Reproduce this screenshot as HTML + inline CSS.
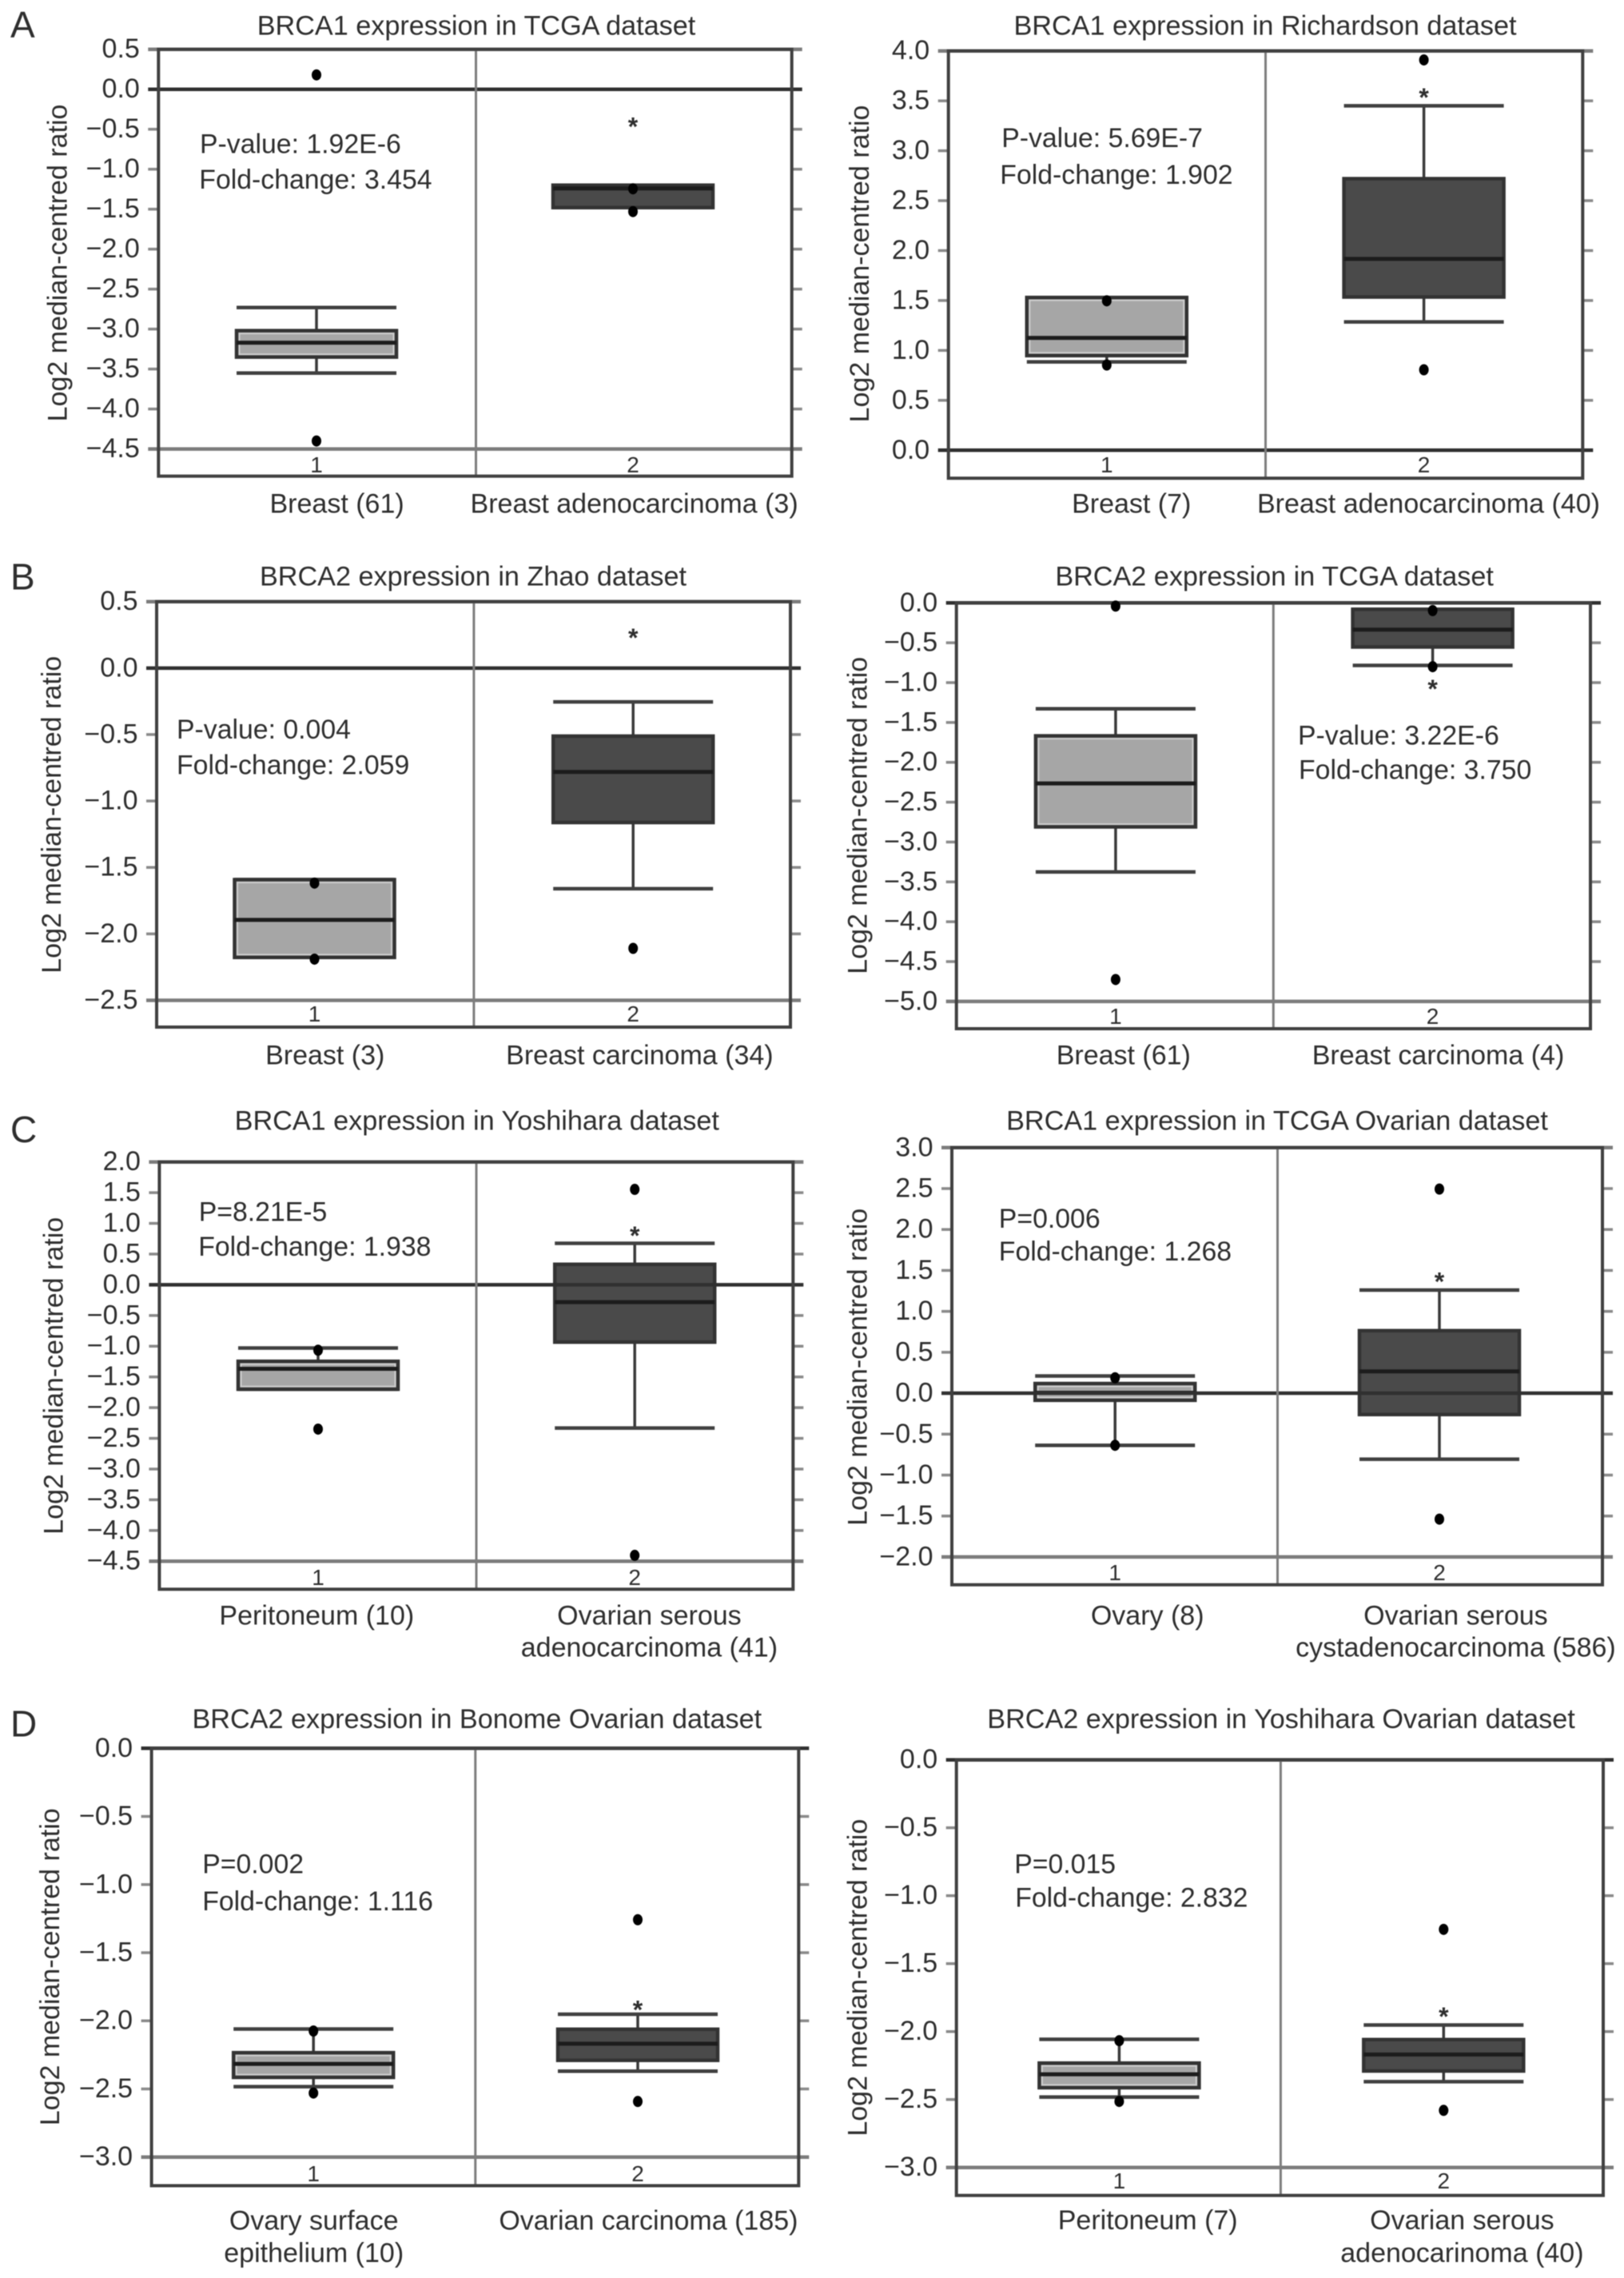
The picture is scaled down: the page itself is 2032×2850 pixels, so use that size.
<!DOCTYPE html>
<html lang="en">
<head>
<meta charset="utf-8">
<title>BRCA1 and BRCA2 expression box plots</title>
<style>
  html, body { margin: 0; padding: 0; background: #ffffff; }
  body { width: 2032px; height: 2850px; overflow: hidden; }
  svg { display: block; filter: blur(0.6px); }
  text { font-family: "Liberation Sans", Arial, sans-serif; fill: #2e2e2e; }
</style>
</head>
<body>
<svg id="figure" xmlns="http://www.w3.org/2000/svg" width="2032" height="2850" viewBox="0 0 2032 2850">
  <rect width="2032" height="2850" fill="#ffffff"/>
  <text x="13" y="46.8" font-size="46">A</text>
  <text x="13" y="737.7" font-size="46">B</text>
  <text x="13" y="1428.8" font-size="46">C</text>
  <text x="13" y="2172.7" font-size="46">D</text>
</svg>
<script>
// ---- Chart A-left: BRCA1, TCGA ----
const a1Ticks = [0.5, 0, -0.5, -1, -1.5, -2, -2.5, -3, -3.5, -4, -4.5];
const a1WhiskerHigh = [-2.73, -1.2];
const a1Q3 = [-3.02, -1.2];
const a1Median = [-3.17, -1.24];
const a1Q1 = [-3.35, -1.48];
const a1WhiskerLow = [-3.55, -1.48];
const a1Outliers = [[0.18, -4.4], [-1.245, -1.53]];
const a1Star = [-0.41];
// ---- Chart A-right: BRCA1, Richardson ----
const a2Ticks = [4, 3.5, 3, 2.5, 2, 1.5, 1, 0.5, 0];
const a2WhiskerHigh = [1.53, 3.45];
const a2Q3 = [1.53, 2.72];
const a2Median = [1.125, 1.917];
const a2Q1 = [0.948, 1.535];
const a2WhiskerLow = [0.885, 1.285];
const a2Outliers = [[1.497, 0.854], [3.91, 0.806]];
const a2Star = [3.58];
// ---- Chart B-left: BRCA2, Zhao ----
const b1Ticks = [0.5, 0, -0.5, -1, -1.5, -2, -2.5];
const b1WhiskerHigh = [-1.592, -0.254];
const b1Q3 = [-1.592, -0.512];
const b1Median = [-1.895, -0.781];
const b1Q1 = [-2.177, -1.162];
const b1WhiskerLow = [-2.177, -1.66];
const b1Outliers = [[-1.618, -2.19], [-2.109]];
const b1Star = [0.265];
// ---- Chart B-right: BRCA2, TCGA ----
const b2Ticks = [0, -0.5, -1, -1.5, -2, -2.5, -3, -3.5, -4, -4.5, -5];
const b2WhiskerHigh = [-1.328, -0.08];
const b2Q3 = [-1.668, -0.08];
const b2Median = [-2.265, -0.335];
const b2Q1 = [-2.81, -0.553];
const b2WhiskerLow = [-3.375, -0.784];
const b2Outliers = [[-0.04, -4.725], [-0.096, -0.8]];
const b2Star = [-1.02];
// ---- Chart C-left: BRCA1, Yoshihara ----
const c1Ticks = [2, 1.5, 1, 0.5, 0, -0.5, -1, -1.5, -2, -2.5, -3, -3.5, -4, -4.5];
const c1WhiskerHigh = [-1.03, 0.676];
const c1Q3 = [-1.246, 0.333];
const c1Median = [-1.368, -0.282];
const c1Q1 = [-1.7, -0.933];
const c1WhiskerLow = [-1.7, -2.332];
const c1Outliers = [[-1.066, -2.35], [1.553, -4.405]];
const c1Star = [0.88];
// ---- Chart C-right: BRCA1, TCGA Ovarian ----
const c2Ticks = [3, 2.5, 2, 1.5, 1, 0.5, 0, -0.5, -1, -1.5, -2];
const c2WhiskerHigh = [0.21, 1.26];
const c2Q3 = [0.118, 0.764];
const c2Median = [0.005, 0.267];
const c2Q1 = [-0.086, -0.26];
const c2WhiskerLow = [-0.636, -0.806];
const c2Outliers = [[0.188, -0.636], [2.494, -1.538]];
const c2Star = [1.42];
// ---- Chart D-left: BRCA2, Bonome Ovarian ----
const d1Ticks = [0, -0.5, -1, -1.5, -2, -2.5, -3];
const d1WhiskerHigh = [-2.06, -1.952];
const d1Q3 = [-2.234, -2.062];
const d1Median = [-2.316, -2.168];
const d1Q1 = [-2.415, -2.29];
const d1WhiskerLow = [-2.483, -2.37];
const d1Outliers = [[-2.075, -2.53], [-1.258, -2.592]];
const d1Star = [-1.884];
// ---- Chart D-right: BRCA2, Yoshihara Ovarian ----
const d2Ticks = [0, -0.5, -1, -1.5, -2, -2.5, -3];
const d2WhiskerHigh = [-2.057, -1.952];
const d2Q3 = [-2.232, -2.059];
const d2Median = [-2.314, -2.169];
const d2Q1 = [-2.413, -2.29];
const d2WhiskerLow = [-2.482, -2.369];
const d2Outliers = [[-2.067, -2.514], [-1.248, -2.58]];
const d2Star = [-1.854];

const charts = [
  { id: 'a1', title: 'BRCA1 expression in TCGA dataset', stat: ['P-value: 1.92E-6', 'Fold-change: 3.454'],
    cats: [['Breast (61)'], ['Breast adenocarcinoma (3)']],
    ticks: a1Ticks, hi: a1WhiskerHigh, q3: a1Q3, med: a1Median, q1: a1Q1, lo: a1WhiskerLow, out: a1Outliers, star: a1Star,
    box: { l: 198.3, r: 990.7, t: 61.7, b: 595.7, yTop: 61.7, yBot: 561.7, div: 595.5, c: [396, 792] },
    text: { titleX: 596, titleY: 43.5, statX: [250, 249.3], statY: [191.7, 236], labelX: [421.6, 793.6], labelY: [641.5, 681], yTitleX: 83.7, yTitleY: 329, numY: 591 } },
  { id: 'a2', title: 'BRCA1 expression in Richardson dataset', stat: ['P-value: 5.69E-7', 'Fold-change: 1.902'],
    cats: [['Breast (7)'], ['Breast adenocarcinoma (40)']],
    ticks: a2Ticks, hi: a2WhiskerHigh, q3: a2Q3, med: a2Median, q1: a2Q1, lo: a2WhiskerLow, out: a2Outliers, star: a2Star,
    box: { l: 1186.7, r: 1980.3, t: 63.7, b: 598.3, yTop: 63.7, yBot: 563.3, div: 1583.5, c: [1384.8, 1781.6] },
    text: { titleX: 1583, titleY: 43.5, statX: [1253.2, 1251.3], statY: [184, 229.8], labelX: [1415.7, 1787.5], labelY: [641.5, 681], yTitleX: 1086.8, yTitleY: 330, numY: 591 } },
  { id: 'b1', title: 'BRCA2 expression in Zhao dataset', stat: ['P-value: 0.004', 'Fold-change: 2.059'],
    cats: [['Breast (3)'], ['Breast carcinoma (34)']],
    ticks: b1Ticks, hi: b1WhiskerHigh, q3: b1Q3, med: b1Median, q1: b1Q1, lo: b1WhiskerLow, out: b1Outliers, star: b1Star,
    box: { l: 196, r: 989, t: 752.7, b: 1285, yTop: 752.7, yBot: 1251.5, div: 592.9, c: [393.5, 792.2] },
    text: { titleX: 592, titleY: 732.7, statX: [221, 221], statY: [923.8, 968.6], labelX: [406.7, 800.4], labelY: [1331.7, 1371], yTitleX: 75.8, yTitleY: 1019.3, numY: 1278 } },
  { id: 'b2', title: 'BRCA2 expression in TCGA dataset', stat: ['P-value: 3.22E-6', 'Fold-change: 3.750'],
    cats: [['Breast (61)'], ['Breast carcinoma (4)']],
    ticks: b2Ticks, hi: b2WhiskerHigh, q3: b2Q3, med: b2Median, q1: b2Q1, lo: b2WhiskerLow, out: b2Outliers, star: b2Star,
    box: { l: 1196.7, r: 1990, t: 754.3, b: 1287, yTop: 754.3, yBot: 1252.9, div: 1593.3, c: [1395.9, 1792.6] },
    text: { titleX: 1594.6, titleY: 732.7, statX: [1624, 1625], statY: [931.7, 974.5], labelX: [1405.8, 1799.5], labelY: [1331.7, 1371], yTitleX: 1084.7, yTitleY: 1020.3, numY: 1281 } },
  { id: 'c1', title: 'BRCA1 expression in Yoshihara dataset', stat: ['P=8.21E-5', 'Fold-change: 1.938'],
    cats: [['Peritoneum (10)'], ['Ovarian serous', 'adenocarcinoma (41)']],
    ticks: c1Ticks, hi: c1WhiskerHigh, q3: c1Q3, med: c1Median, q1: c1Q1, lo: c1WhiskerLow, out: c1Outliers, star: c1Star,
    box: { l: 199.4, r: 992.3, t: 1453.7, b: 1988.3, yTop: 1453.7, yBot: 1953.2, div: 596, c: [398, 794.2] },
    text: { titleX: 596.8, titleY: 1413.4, statX: [248.7, 248.2], statY: [1527.3, 1571], labelX: [396.3, 812.4], labelY: [2032.7, 2072.5], yTitleX: 78.7, yTitleY: 1721.3, numY: 1983 } },
  { id: 'c2', title: 'BRCA1 expression in TCGA Ovarian dataset', stat: ['P=0.006', 'Fold-change: 1.268'],
    cats: [['Ovary (8)'], ['Ovarian serous', 'cystadenocarcinoma (586)']],
    ticks: c2Ticks, hi: c2WhiskerHigh, q3: c2Q3, med: c2Median, q1: c2Q1, lo: c2WhiskerLow, out: c2Outliers, star: c2Star,
    box: { l: 1191, r: 2005, t: 1435.8, b: 1982.7, yTop: 1435.8, yBot: 1947.9, div: 1598.5, c: [1395.2, 1801] },
    text: { titleX: 1598, titleY: 1413.4, statX: [1249.8, 1249.8], statY: [1536.2, 1577], labelX: [1435.7, 1821.4], labelY: [2032.7, 2072.5], yTitleX: 1084.7, yTitleY: 1710.3, numY: 1977 } },
  { id: 'd1', title: 'BRCA2 expression in Bonome Ovarian dataset', stat: ['P=0.002', 'Fold-change: 1.116'],
    cats: [['Ovary surface', 'epithelium (10)'], ['Ovarian carcinoma (185)']],
    ticks: d1Ticks, hi: d1WhiskerHigh, q3: d1Q3, med: d1Median, q1: d1Q1, lo: d1WhiskerLow, out: d1Outliers, star: d1Star,
    box: { l: 189.6, r: 999.3, t: 2187.3, b: 2734.5, yTop: 2187.3, yBot: 2698.7, div: 594.8, c: [392.2, 798] },
    text: { titleX: 596.8, titleY: 2161.8, statX: [253.2, 253.2], statY: [2343.5, 2390], labelX: [392.7, 811.4], labelY: [2789.6, 2830], yTitleX: 73.8, yTitleY: 2460.8, numY: 2729 } },
  { id: 'd2', title: 'BRCA2 expression in Yoshihara Ovarian dataset', stat: ['P=0.015', 'Fold-change: 2.832'],
    cats: [['Peritoneum (7)'], ['Ovarian serous', 'adenocarinoma (40)']],
    ticks: d2Ticks, hi: d2WhiskerHigh, q3: d2Q3, med: d2Median, q1: d2Q1, lo: d2WhiskerLow, out: d2Outliers, star: d2Star,
    box: { l: 1196.7, r: 2006, t: 2201.7, b: 2746.7, yTop: 2201.7, yBot: 2711.7, div: 1602.4, c: [1400.4, 1806.3] },
    text: { titleX: 1603, titleY: 2161.8, statX: [1269.2, 1270.2], statY: [2343.5, 2385.4], labelX: [1436.2, 1829.4], labelY: [2789, 2830], yTitleX: 1084.7, yTitleY: 2474.2, numY: 2738 } }
];

const SVG_NS = 'http://www.w3.org/2000/svg';
const svg = document.getElementById('figure');
const BOX_HALF = 100;
const TICK_LEN = 13;

function make(parent, tag, attrs, content) {
  const node = document.createElementNS(SVG_NS, tag);
  for (const key in attrs) node.setAttribute(key, attrs[key]);
  if (content !== undefined) node.textContent = content;
  parent.appendChild(node);
  return node;
}

function formatTick(v) {
  const s = Math.abs(v).toFixed(1);
  return v < 0 ? '\u2212' + s : s;
}

function drawChart(ch) {
  const g = make(svg, 'g', {});
  
  

  const f = ch.box;
  const first = ch.ticks[0];
  const last = ch.ticks[ch.ticks.length - 1];
  const y = function (v) { return f.yTop + (first - v) * (f.yBot - f.yTop) / (first - last); };

  // title
  const title = make(g, 'text', { x: ch.text.titleX, y: ch.text.titleY, 'font-size': 34.2, 'text-anchor': 'middle' }, ch.title);
  
  

  // y-axis title
  const yt = make(g, 'text', { transform: 'translate(' + ch.text.yTitleX + ' ' + ch.text.yTitleY + ') rotate(-90)', 'font-size': 34, 'text-anchor': 'middle' }, 'Log2 median-centred ratio');
  
  

  // boxes and whiskers
  [0, 1].forEach(function (i) {
    const cx = f.c[i];
    const stemUp = make(g, 'line', { x1: cx, x2: cx, y1: y(ch.hi[i]), y2: y(ch.q3[i]), stroke: '#3a3a3a', 'stroke-width': 3.5 });
    
    
    const stemDown = make(g, 'line', { x1: cx, x2: cx, y1: y(ch.q1[i]), y2: y(ch.lo[i]), stroke: '#3a3a3a', 'stroke-width': 3.5 });
    
    
    const capUp = make(g, 'line', { x1: cx - BOX_HALF, x2: cx + BOX_HALF, y1: y(ch.hi[i]), y2: y(ch.hi[i]), stroke: '#404040', 'stroke-width': 4.5 });
    
    
    const capDown = make(g, 'line', { x1: cx - BOX_HALF, x2: cx + BOX_HALF, y1: y(ch.lo[i]), y2: y(ch.lo[i]), stroke: '#404040', 'stroke-width': 4.5 });
    
    

    const rect = make(g, 'rect', { x: cx - BOX_HALF, y: y(ch.q3[i]), width: 2 * BOX_HALF, height: y(ch.q1[i]) - y(ch.q3[i]), fill: i === 0 ? '#a6a6a6' : '#4a4a4a', stroke: '#333333', 'stroke-width': 4.5 });
    
    

    if (i === 0) {
      const halo = make(g, 'rect', { x: cx - BOX_HALF + 3.5, y: y(ch.q3[i]) + 3.5, width: 2 * BOX_HALF - 7, height: Math.max(0, y(ch.q1[i]) - y(ch.q3[i]) - 7), fill: 'none', stroke: '#cdcdcd', 'stroke-width': 2 });
      
      
    }

    const med = make(g, 'line', { x1: cx - BOX_HALF, x2: cx + BOX_HALF, y1: y(ch.med[i]), y2: y(ch.med[i]), stroke: '#1c1c1c', 'stroke-width': 5 });
    
    
  });

  // ticks, tick labels and reference lines
  ch.ticks.forEach(function (v, idx) {
    const py = y(v);
    const label = make(g, 'text', { x: f.l - 23.5, y: py + 10.5, 'font-size': 34, 'text-anchor': 'end' }, formatTick(v));
    
    

    const isZero = v === 0;
    const isEdge = idx === 0 || idx === ch.ticks.length - 1;
    if (isZero || isEdge) {
      const ref = make(g, 'line', { x1: f.l - TICK_LEN, x2: f.r + TICK_LEN, y1: py, y2: py, stroke: isZero ? '#303030' : '#7c7c7c', 'stroke-width': 4.5 });
      
      
    } else {
      const tl = make(g, 'line', { x1: f.l - TICK_LEN, x2: f.l, y1: py, y2: py, stroke: '#8a8a8a', 'stroke-width': 3.5 });
      
      
      const tr = make(g, 'line', { x1: f.r, x2: f.r + TICK_LEN, y1: py, y2: py, stroke: '#8a8a8a', 'stroke-width': 3.5 });
      
      
    }
  });

  // frame and divider
  const divider = make(g, 'line', { x1: f.div, x2: f.div, y1: f.t, y2: f.b, stroke: '#7d7d7d', 'stroke-width': 3 });
  
  
  const frame = make(g, 'rect', { x: f.l, y: f.t, width: f.r - f.l, height: f.b - f.t, fill: 'none', stroke: '#404040', 'stroke-width': 4 });
  
  

  // outliers
  ch.out.forEach(function (list, i) {
    list.forEach(function (v) {
      const dot = make(g, 'ellipse', { cx: f.c[i], cy: y(v), rx: 6, ry: 7, fill: '#000000' });
      
      
    });
  });

  // significance stars (drawn over the tumour category)
  ch.star.forEach(function (v) {
    const st = make(g, 'text', { x: f.c[1], y: y(v) + 17, 'font-size': 32, 'font-weight': 'bold', 'text-anchor': 'middle' }, '*');
    
    
  });

  // category numbers and labels
  [0, 1].forEach(function (i) {
    const num = make(g, 'text', { x: f.c[i], y: ch.text.numY, 'font-size': 28, 'text-anchor': 'middle' }, String(i + 1));
    
    
    ch.cats[i].forEach(function (line, k) {
      const lab = make(g, 'text', { x: ch.text.labelX[i], y: ch.text.labelY[k], 'font-size': 34, 'text-anchor': 'middle' }, line);
      
      
    });
  });

  // statistics annotation
  ch.stat.forEach(function (line, k) {
    const s = make(g, 'text', { x: ch.text.statX[k], y: ch.text.statY[k], 'font-size': 33.8 }, line);
    
    
  });
}

charts.forEach(drawChart);
</script>
</body>
</html>
